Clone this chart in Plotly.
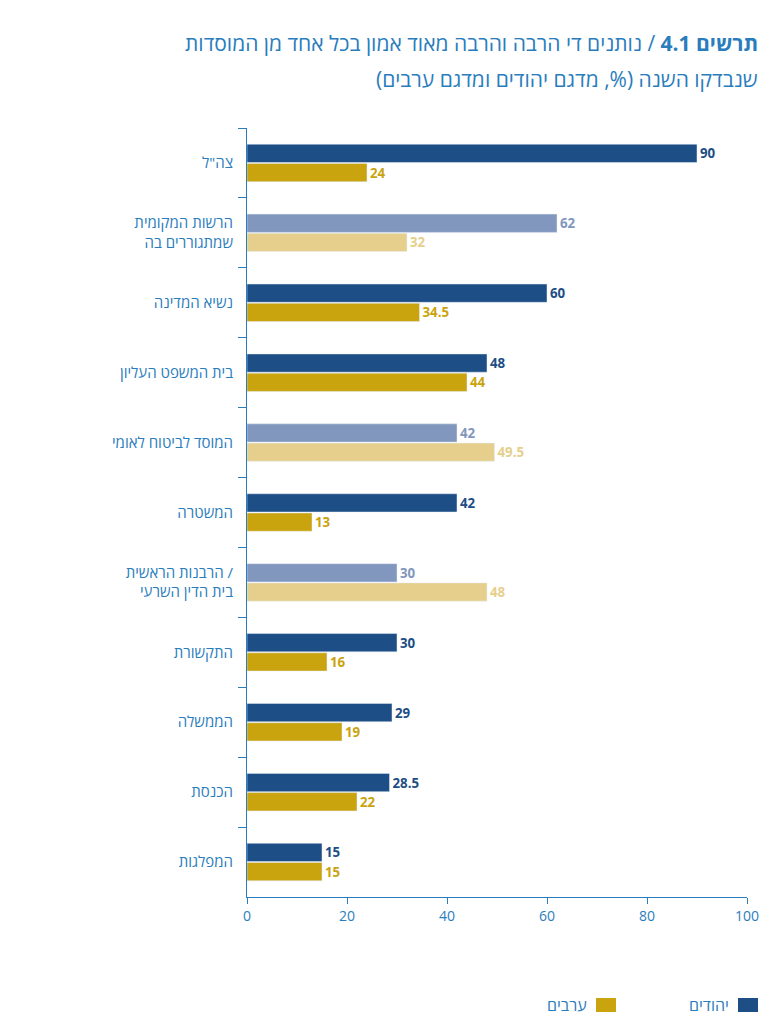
import plotly.graph_objects as go

categories = ["צה\"ל", "הרשות המקומית<br>שמתגוררים בה", "נשיא המדינה", "בית המשפט העליון",
              "המוסד לביטוח לאומי", "המשטרה", "הרבנות הראשית /<br>בית הדין השרעי",
              "התקשורת", "הממשלה", "הכנסת", "המפלגות"]
jews = [90, 62, 60, 48, 42, 42, 30, 30, 29, 28.5, 15]
arabs = [24, 32, 34.5, 44, 49.5, 13, 48, 16, 19, 22, 15]
light = [False, True, False, False, True, False, True, False, False, False, False]

dark_blue, light_blue = "#1d4e85", "#8197bd"
gold, light_gold = "#c9a40e", "#e6cf8c"
jc = [light_blue if l else dark_blue for l in light]
ac = [light_gold if l else gold for l in light]

L, R, T, B = 239, 45, 120, 135
W, H = 784, 1024
PW, PH = W - L - R, H - T - B
def px(x): return (x - L) / PW
def py(y): return (H - B - y) / PH

fig = go.Figure()
fig.add_bar(y=categories, x=jews, orientation="h", marker_color=jc, name="יהודים",
            text=[f"<b>{v:g}</b>" for v in jews], textposition="outside",
            textfont=dict(color=jc, size=16), cliponaxis=False)
fig.add_bar(y=categories, x=arabs, orientation="h", marker_color=ac, name="ערבים",
            text=[f"<b>{v:g}</b>" for v in arabs], textposition="outside",
            textfont=dict(color=ac, size=16), cliponaxis=False)

fig.update_layout(
    width=W, height=H, barmode="group", bargap=0.45, bargroupgap=0.05,
    margin=dict(l=L, r=R, t=T, b=B), showlegend=False,
    plot_bgcolor="white", paper_bgcolor="white",
    font=dict(family="Open Sans", color="#2a7dbd", size=14),
    xaxis=dict(range=[0, 100], tickvals=[0, 20, 40, 60, 80, 100], showgrid=False,
               showline=True, linecolor="#2a7dbd", ticks="outside", tickcolor="#2a7dbd",
               ticklen=6, zeroline=False, tickfont=dict(size=14, color="#2a7dbd")),
    yaxis=dict(autorange="reversed", showline=True, linecolor="#2a7dbd", ticks="outside",
               tickson="boundaries", tickcolor="#2a7dbd", ticklen=8, showgrid=False,
               tickfont=dict(size=15, color="#2a7dbd"), ticklabelstandoff=10),
)
fig.add_annotation(xref="paper", yref="paper", x=px(752), y=py(35),
                   xanchor="right", yanchor="middle", showarrow=False, align="right",
                   text="<b>תרשים 4.1</b> / נותנים די הרבה והרבה מאוד אמון בכל אחד מן המוסדות",
                   font=dict(size=21, color="#2a7dbd"))
fig.add_annotation(xref="paper", yref="paper", x=px(752), y=py(71),
                   xanchor="right", yanchor="middle", showarrow=False, align="right",
                   text="שנבדקו השנה (%, מדגם יהודים ומדגם ערבים)",
                   font=dict(size=21, color="#2a7dbd"))
# legend
for x1, col, label in [(750, dark_blue, "יהודים"), (608, gold, "ערבים")]:
    fig.add_shape(type="rect", xref="paper", yref="paper",
                  x0=px(x1 - 20), x1=px(x1), y0=py(1004), y1=py(990),
                  fillcolor=col, line_width=0)
    fig.add_annotation(xref="paper", yref="paper", x=px(x1 - 27), y=py(997),
                       xanchor="right", yanchor="middle", showarrow=False, text=label,
                       font=dict(size=16, color="#2a7dbd"))
fig.write_html("out.html")
